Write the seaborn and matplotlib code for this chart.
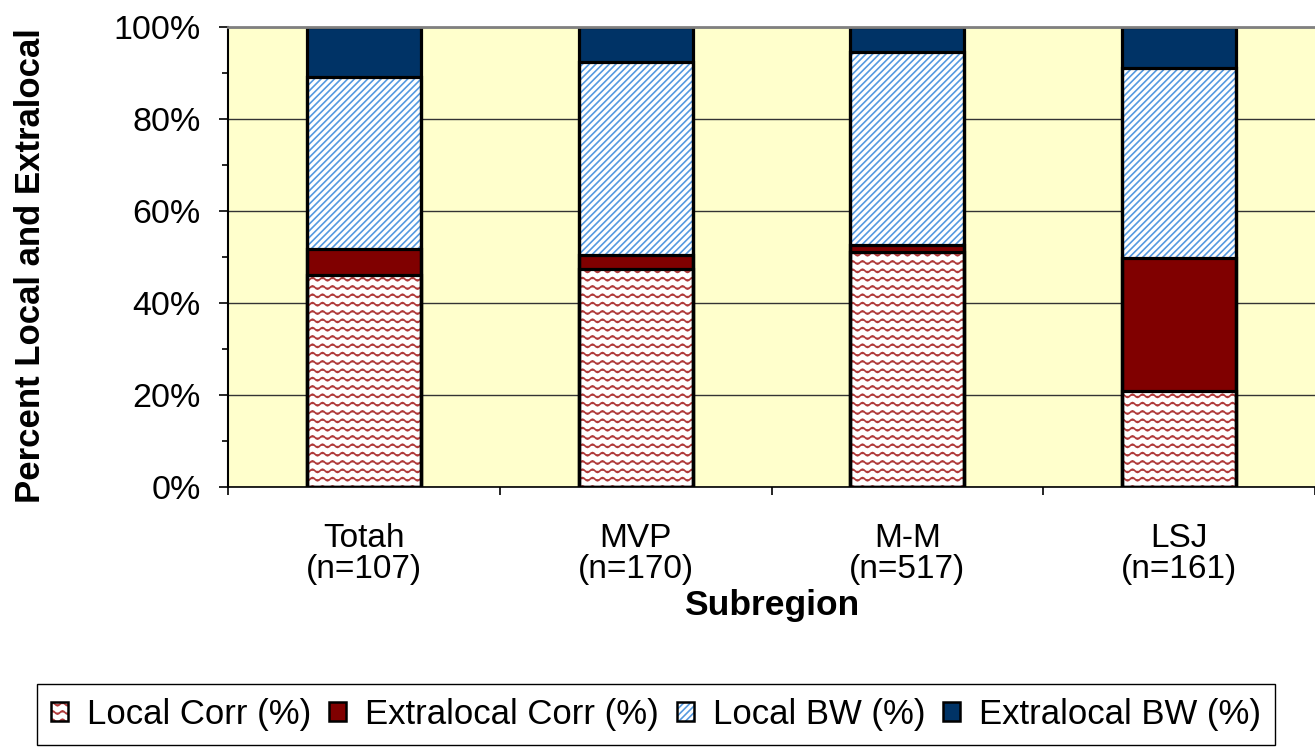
import numpy as np
import matplotlib
matplotlib.use('Agg')
import matplotlib.pyplot as plt
import matplotlib.hatch as mhatch
from matplotlib.path import Path
from matplotlib.patches import Patch
from matplotlib.ticker import PercentFormatter, MultipleLocator
import seaborn as sns

subregions = ['Totah', 'MVP', 'M-M', 'LSJ']
sample_sizes = [107, 170, 517, 161]
local_corr = [46.1, 47.4, 51.1, 20.9]
extralocal_corr = [5.6, 3.0, 1.5, 28.9]
local_bw = [37.4, 42.0, 42.0, 41.2]
extralocal_bw = [10.9, 7.6, 5.4, 9.0]
series_names = ['Local Corr (%)', 'Extralocal Corr (%)', 'Local BW (%)', 'Extralocal BW (%)']


class WaveHatch(mhatch.HatchPatternBase):
    # wavy lines instead of the plain '-' hatch (like excel's "wave" fill)
    periods = 10
    seg = 8

    def __init__(self, hatch, density):
        self.num_lines = int((hatch.count('-') + hatch.count('+')) * density)
        self.num_pts = self.periods * self.seg + 1
        self.num_vertices = self.num_lines * self.num_pts

    def set_vertices_and_codes(self, vertices, codes):
        steps, stepsize = np.linspace(0.0, 1.0, self.num_lines, False, retstep=True)
        steps += stepsize / 2.
        xs = np.linspace(0, 1, self.num_pts)
        wave = 0.016 * np.sin(2 * np.pi * self.periods * xs)
        for i, s in enumerate(steps):
            sl = slice(i * self.num_pts, (i + 1) * self.num_pts)
            vertices[sl, 0] = xs
            vertices[sl, 1] = s + wave
            codes[sl] = Path.LINETO
            codes[i * self.num_pts] = Path.MOVETO


mhatch._hatch_types = [WaveHatch if t is mhatch.HorizontalHatch else t for t in mhatch._hatch_types]

sns.set_theme(style='ticks')
plt.rcParams['font.family'] = ['Liberation Sans', 'DejaVu Sans']
plt.rcParams['hatch.linewidth'] = 1.2
plt.rcParams['text.color'] = 'black'
plt.rcParams['axes.labelcolor'] = 'black'
plt.rcParams['xtick.color'] = 'black'
plt.rcParams['ytick.color'] = 'black'

fig = plt.figure(figsize=(13.15, 7.47), dpi=100)
ax = fig.add_axes([228 / 1315, 1 - 487 / 747, 1087 / 1315, 460 / 747])
ax.set_facecolor('#FFFFCC')

layers = [local_corr, extralocal_corr, local_bw, extralocal_bw]
cum = np.cumsum(layers, axis=0)
# (face, hatch colour, hatch)
styles = [('white', '#B03A3A', '--'),
          ('#800000', '#800000', ''),
          ('white', '#5599E0', '/////'),
          ('#003366', '#003366', '')]
labels = [f'{s}\n(n={n})' for s, n in zip(subregions, sample_sizes)]

# stacked bars: draw cumulative totals from the top layer down
for i in range(3, -1, -1):
    face, hcol, hatch = styles[i]
    sns.barplot(x=labels, y=cum[i], color=face, saturation=1, width=0.42,
                errorbar=None, linewidth=0, ax=ax)
    for bar in ax.containers[-1]:
        bar.set_facecolor(face)
        bar.set_edgecolor(hcol)
        bar.set_hatch(hatch)
        bar.set_linewidth(0)

# black outlines on top
for i in range(4):
    sns.barplot(x=labels, y=cum[i], fill=False, color='black', width=0.42,
                errorbar=None, linewidth=2.3, ax=ax)
    for bar in ax.containers[-1]:
        bar.set_edgecolor('black')
        bar.set_facecolor('none')
        bar.set_hatch('')

ax.set_ylim(0, 100)
ax.set_xlim(-0.5, 3.5)
ax.yaxis.set_major_locator(MultipleLocator(20))
ax.yaxis.set_minor_locator(MultipleLocator(10))
ax.yaxis.set_major_formatter(PercentFormatter(decimals=0))
ax.grid(axis='y', which='major', color='#333333', lw=1)
ax.set_axisbelow(True)

ax.set_xticks([-0.5, 0.5, 1.5, 2.5, 3.5], labels=[''] * 5)
ax.set_xticks(range(4), labels=labels, minor=True)
for t in ax.get_xticklabels(minor=True):
    t.set_linespacing(1.0)
ax.tick_params(axis='x', which='major', length=6, width=1.2, color='black', direction='out')
ax.tick_params(axis='x', which='minor', length=0, pad=26, labelsize=24)
ax.tick_params(axis='y', which='major', length=6.5, width=1.2, color='black', pad=13, labelsize=24.5, direction='out')
ax.tick_params(axis='y', which='minor', length=4.5, width=1.2, color='black', direction='out')
ax.set_xlabel('')
ax.set_ylabel('')

ax.spines['right'].set_visible(False)
ax.spines['top'].set_color('#808080')
ax.spines['top'].set_linewidth(2)
ax.spines['left'].set_color('black')
ax.spines['left'].set_linewidth(1.5)
ax.spines['bottom'].set_color('black')
ax.spines['bottom'].set_linewidth(1.2)

fig.text(0.023, 0.644, 'Percent Local and Extralocal', rotation=90,
         fontweight='bold', fontsize=25, ha='center', va='center')
fig.text(771.5 / 1315, 1 - 605 / 747, 'Subregion', fontweight='bold',
         fontsize=25.5, ha='center', va='center')

handles = []
for face, hcol, hatch in styles:
    handles.append((Patch(facecolor=face, edgecolor=hcol, hatch=hatch, lw=0),
                    Patch(facecolor='none', edgecolor='black', lw=1.8)))
leg = fig.legend(handles, series_names, loc='upper left',
                 bbox_to_anchor=(37 / 1315, 1 - 684 / 747), ncol=4,
                 frameon=True, fancybox=False, edgecolor='black', framealpha=1,
                 fontsize=25, handlelength=0.5, handleheight=0.5,
                 handletextpad=0.55, columnspacing=0.5, borderpad=0.4,
                 borderaxespad=0)
leg.get_frame().set_linewidth(1)

fig.savefig('out.png', dpi=100)
